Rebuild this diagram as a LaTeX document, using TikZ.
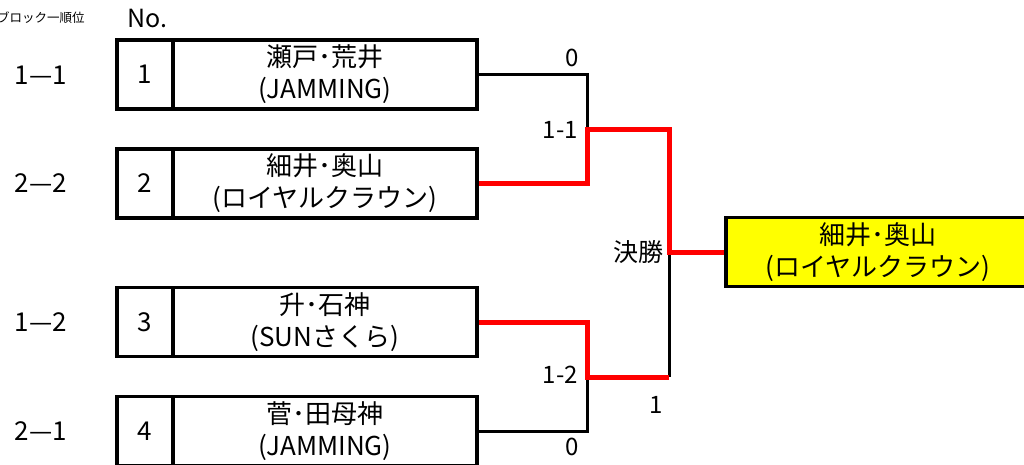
\documentclass[tikz,border=0pt]{standalone}
\usepackage{fontspec}
\setmainfont{Noto Sans CJK JP}
\definecolor{winyellow}{RGB}{255,255,0}
\definecolor{winred}{RGB}{255,0,0}
\tikzset{
  numbox/.style={draw=black, line width=3.5pt, minimum width=56pt, minimum height=69pt, inner sep=0pt, font=\fontsize{26}{30}\selectfont},
  namebox/.style={draw=black, line width=3.5pt, minimum width=304pt, minimum height=69pt, inner sep=0pt, align=center, font=\fontsize{26}{32}\selectfont},
  winbox/.style={draw=black, fill=winyellow, line width=3.5pt, minimum width=304pt, minimum height=69pt, inner sep=0pt, align=center, font=\fontsize{26}{32}\selectfont},
  lbl/.style={inner sep=0pt, font=\fontsize{26}{30}\selectfont},
  score/.style={inner sep=0pt, font=\fontsize{24}{28}\selectfont},
  loseline/.style={draw=black, line width=3pt},
  winline/.style={draw=winred, line width=5pt},
}
\begin{document}
\begin{tikzpicture}[x=1pt,y=-1pt]
\useasboundingbox (0,0) rectangle (1024,464);
\clip (0,0) rectangle (1024,464);
% header
\node[inner sep=0pt, anchor=west, font=\fontsize{12.5}{14}\selectfont] (hdr) at (-3,18) {ブロック一順位};
\node[lbl, font=\fontsize{25}{28}\selectfont] (no) at (147,18) {No.};
% rank labels
\node[lbl] (r1) at (41,75) {1—1};
\node[lbl] (r2) at (41,183) {2—2};
\node[lbl] (r3) at (41,322) {1—2};
\node[lbl] (r4) at (41,431) {2—1};
% team boxes
\node[numbox] (n1) at (145,74.5) {1};
\node[namebox] (t1) at (325,74.5) {瀬戸･荒井\\(JAMMING)};
\node[numbox] (n2) at (145,183.5) {2};
\node[namebox] (t2) at (325,183.5) {細井･奥山\\(ロイヤルクラウン)};
\node[numbox] (n3) at (145,322) {3};
\node[namebox] (t3) at (325,322) {升･石神\\(SUNさくら)};
\node[numbox] (n4) at (145,431) {4};
\node[namebox] (t4) at (325,431) {菅･田母神\\(JAMMING)};
% winner
\node[winbox, anchor=west] (w) at (724,252) {細井･奥山\\(ロイヤルクラウン)};
% joints
\coordinate (m1) at (587,129);
\coordinate (m2) at (587,377);
\coordinate (s1) at (669,129);
\coordinate (s2) at (669,377);
\coordinate (f) at (669,252);
% connectors
\draw[loseline] (t1.east) -| (m1);
\draw[loseline] (t4.east) -| (m2);
\draw[loseline] (s2) -- (f);
\draw[winline] (t2.east) -| (m1) -- (s1) -- (f) -- (w.west);
\draw[winline] (t3.east) -| (m2) -- (s2);
% scores
\node[score] (sc1) at (572,58) {0};
\node[score, anchor=east] (sc2) at (578,130) {1-1};
\node[lbl, font=\fontsize{25}{28}\selectfont, anchor=east] (fin) at (664,252) {決勝};
\node[score, anchor=east] (sc3) at (578,375) {1-2};
\node[score] (sc4) at (656,405) {1};
\node[score] (sc5) at (572,447) {0};
\end{tikzpicture}
\end{document}
